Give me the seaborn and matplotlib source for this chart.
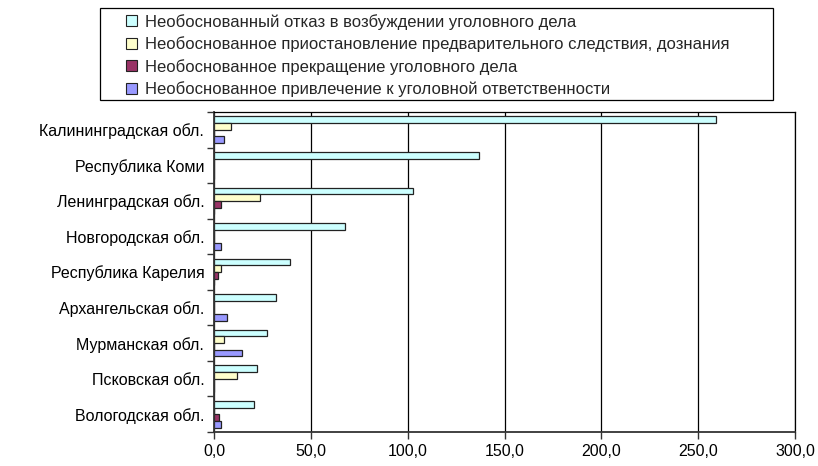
import numpy as np
import pandas as pd
import matplotlib
matplotlib.use("Agg")
import matplotlib.pyplot as plt
import seaborn as sns
from matplotlib.ticker import FuncFormatter, FixedLocator

regions = ["Калининградская обл.", "Республика Коми", "Ленинградская обл.",
           "Новгородская обл.", "Республика Карелия", "Архангельская обл.",
           "Мурманская обл.", "Псковская обл.", "Вологодская обл."]
series = ["Необоснованный отказ в возбуждении уголовного дела",
          "Необоснованное приостановление предварительного следствия, дознания",
          "Необоснованное прекращение уголовного дела",
          "Необоснованное привлечение к уголовной ответственности"]
refusal = [259.0, 137.0, 103.0, 67.5, 39.0, 32.2, 27.2, 22.4, 20.7]
suspension = [8.6, 0.0, 23.9, 0.0, 3.8, 0.0, 5.3, 12.0, 0.0]
termination = [0.0, 0.0, 3.8, 0.0, 1.9, 0.0, 0.0, 0.0, 2.8]
prosecution = [5.3, 0.0, 0.0, 3.8, 0.0, 6.9, 14.6, 0.0, 3.8]
colors = ["#CCFFFF", "#FFFFCC", "#993366", "#9999FF"]

rows = []
for s, vals in zip(series, [refusal, suspension, termination, prosecution]):
    for r, v in zip(regions, vals):
        rows.append({"region": r, "series": s, "value": v})
df = pd.DataFrame(rows)

sns.set_theme(style="white")
plt.rcParams["font.family"] = ["Liberation Sans", "DejaVu Sans"]

fig = plt.figure(figsize=(8.18, 4.66), dpi=100)
ax = fig.add_axes([214 / 818, 1 - 432 / 466, 581 / 818, 320 / 466])

sns.barplot(data=df, y="region", x="value", hue="series", order=regions,
            hue_order=series, palette=colors, orient="h", width=0.75,
            edgecolor="#222222", linewidth=0.9, saturation=1, legend=False, ax=ax)

ax.set_xlim(0, 300)
ax.set_ylim(len(regions) - 0.5, -0.5)
ax.set_xticks(np.arange(0, 301, 50))
ax.xaxis.set_major_formatter(FuncFormatter(lambda v, p: f"{v:.1f}".replace(".", ",")))
ax.grid(axis="x", color="black", linewidth=0.9)
ax.set_axisbelow(True)
ax.set_xlabel("")
ax.set_ylabel("")
for side in ["top", "right"]:
    ax.spines[side].set_color("black")
    ax.spines[side].set_linewidth(0.9)
for side in ["left", "bottom"]:
    ax.spines[side].set_color("#333333")
    ax.spines[side].set_linewidth(1.3)

ax.yaxis.set_minor_locator(FixedLocator(np.arange(-0.5, len(regions), 1)))
ax.tick_params(axis="y", which="major", length=0, labelsize=11.5, pad=7, colors="black")
ax.tick_params(axis="y", which="minor", length=5, width=1, color="#333333", left=True)
ax.tick_params(axis="x", which="major", length=5, width=1, color="#333333", bottom=True,
               labelsize=11.5, pad=4, labelcolor="black")

handles = [plt.Rectangle((0, 0), 1, 1, facecolor=c, edgecolor="#222222", linewidth=0.8)
           for c in colors]
leg = fig.legend(handles, series, loc="upper left",
                 bbox_to_anchor=(120 / 818, 1 - 100 / 466, 653 / 818, 92 / 466),
                 mode="expand", frameon=False, fontsize=12,
                 handlelength=0.65, handleheight=0.65, handletextpad=0.5,
                 labelspacing=0.4, borderpad=0.35, borderaxespad=0)
# legend frame spans wider than the entries, as in the original
fig.patches.append(plt.Rectangle((100 / 818, 1 - 100 / 466), 673 / 818, 92 / 466,
                                 transform=fig.transFigure, fill=False,
                                 edgecolor="black", linewidth=0.9))

fig.savefig("out.png", dpi=100)
